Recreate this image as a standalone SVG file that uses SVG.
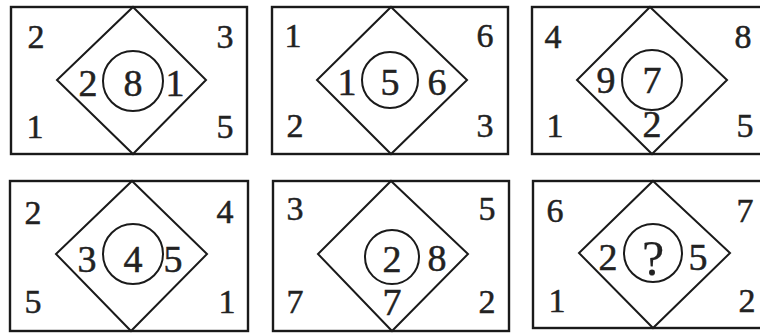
<svg xmlns="http://www.w3.org/2000/svg" width="760" height="333" viewBox="0 0 760 333">
<style>
.box{fill:none;stroke:#1a1a1a;stroke-width:2.4}
.dia{fill:none;stroke:#1a1a1a;stroke-width:2}
.cir{fill:none;stroke:#1a1a1a;stroke-width:2}
.t{font-family:"Liberation Serif","Times New Roman",serif;font-size:34px;fill:#222;stroke:#222;stroke-width:0.5;text-anchor:middle}
.t .in{font-size:38px}
.t .q{font-size:50px;stroke-width:0.2}
</style>
<rect width="760" height="333" fill="#fff"/>
<g id="panel1" class="t">
<rect class="box" x="11" y="7" width="236" height="147"/>
<polygon class="dia" points="133,7 206,80 133,154 57,80"/>
<circle class="cir" cx="133" cy="81" r="30"/>
<text x="36" y="48">2</text><text x="225" y="48">3</text>
<text x="35" y="138">1</text><text x="225" y="138">5</text>
<text class="in" x="88" y="96">2</text><text class="in" x="133" y="96">8</text><text class="in" x="175" y="96">1</text>
</g>
<g id="panel2" class="t">
<rect class="box" x="272" y="7" width="236" height="147"/>
<polygon class="dia" points="391,7 467,80 391,154 317,80"/>
<circle class="cir" cx="390" cy="80" r="28"/>
<text x="293" y="47">1</text><text x="485" y="47">6</text>
<text x="295" y="137">2</text><text x="485" y="137">3</text>
<text class="in" x="347" y="95">1</text><text class="in" x="390" y="95">5</text><text class="in" x="437" y="95">6</text>
</g>
<g id="panel3" class="t">
<rect class="box" x="532" y="7" width="240" height="147"/>
<polygon class="dia" points="650,7 727,80 652,154 577,80"/>
<circle class="cir" cx="652" cy="80" r="30"/>
<text x="553" y="48">4</text><text x="743" y="48">8</text>
<text x="555" y="137">1</text><text x="745" y="137">5</text>
<text class="in" x="606" y="93">9</text><text class="in" x="652" y="93">7</text><text class="in" x="652" y="137">2</text>
</g>
<g id="panel4" class="t">
<rect class="box" x="10" y="181" width="238" height="150"/>
<polygon class="dia" points="132,181 207,254 131,331 56,254"/>
<circle class="cir" cx="133" cy="254" r="30"/>
<text x="33" y="224">2</text><text x="225" y="223">4</text>
<text x="33" y="313">5</text><text x="227" y="313">1</text>
<text class="in" x="87" y="272">3</text><text class="in" x="133" y="272">4</text><text class="in" x="173" y="272">5</text>
</g>
<g id="panel5" class="t">
<rect class="box" x="273" y="181" width="236" height="150"/>
<polygon class="dia" points="391,181 468,254 392,331 318,254"/>
<circle class="cir" cx="392" cy="257" r="27"/>
<text x="295" y="220">3</text><text x="487" y="220">5</text>
<text x="295" y="313">7</text><text x="487" y="313">2</text>
<text class="in" x="392" y="272">2</text><text class="in" x="437" y="271">8</text><text class="in" x="392" y="315">7</text>
</g>
<g id="panel6" class="t">
<rect class="box" x="533" y="181" width="240" height="147"/>
<polygon class="dia" points="653,181 730,253 653,328 579,253"/>
<circle class="cir" cx="653" cy="253" r="29"/>
<text x="555" y="222">6</text><text x="745" y="222">7</text>
<text x="557" y="312">1</text><text x="747" y="312">2</text>
<text class="in" x="608" y="270">2</text><text class="q" x="653" y="275">?</text><text class="in" x="698" y="270">5</text>
</g>
</svg>
